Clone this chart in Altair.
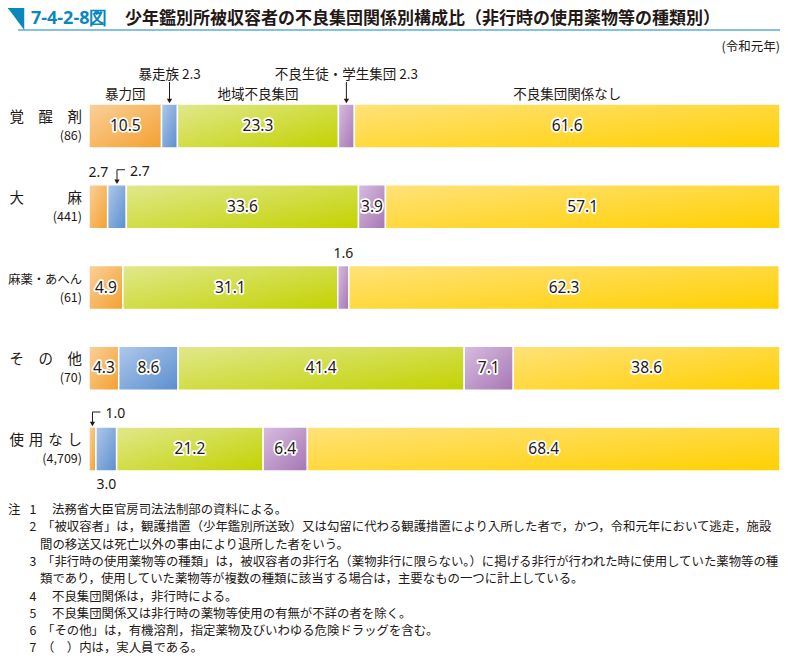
import altair as alt
import pandas as pd

# ---------------- data ----------------
rows = ["覚醒剤", "大麻", "麻薬・あへん", "その他", "使用なし"]
row_labels = ["覚　醒　剤", "大　　　麻", "麻薬・あへん", "そ　の　他", "使\u2004用\u2004な\u2004し"]
counts = ["(86)", "(441)", "(61)", "(70)", "(4,709)"]
groups = ["暴力団", "暴走族", "地域不良集団", "不良生徒・学生集団", "不良集団関係なし"]

v_boryokudan = [10.5, 2.7, 4.9, 4.3, 1.0]
v_bosozoku = [2.3, 2.7, 0.0, 8.6, 3.0]
v_chiiki = [23.3, 33.6, 31.1, 41.4, 21.2]
v_seito = [2.3, 3.9, 1.6, 7.1, 6.4]
v_nashi = [61.6, 57.1, 62.3, 38.6, 68.4]

# labels placed outside the bars: (row, group, kind)
callouts = [
    ("覚醒剤", "暴力団", "header"),
    ("覚醒剤", "地域不良集団", "header"),
    ("覚醒剤", "不良集団関係なし", "header"),
    ("覚醒剤", "暴走族", "arrow"),
    ("覚醒剤", "不良生徒・学生集団", "arrow"),
    ("大麻", "暴力団", "above"),
    ("大麻", "暴走族", "elbow"),
    ("麻薬・あへん", "不良生徒・学生集団", "above"),
    ("使用なし", "暴力団", "elbow"),
    ("使用なし", "暴走族", "below"),
]

title_no = "7-4-2-8図"
title_text = "少年鑑別所被収容者の不良集団関係別構成比（非行時の使用薬物等の種類別）"
year_text = "(令和元年)"

notes = [
    ["法務省大臣官房司法法制部の資料による。"],
    ["「被収容者」は，観護措置（少年鑑別所送致）又は勾留に代わる観護措置により入所した者で，かつ，令和元年において逃走，施設",
     "間の移送又は死亡以外の事由により退所した者をいう。"],
    ["「非行時の使用薬物等の種類」は，被収容者の非行名（薬物非行に限らない。）に掲げる非行が行われた時に使用していた薬物等の種",
     "類であり，使用していた薬物等が複数の種類に該当する場合は，主要なもの一つに計上している。"],
    ["不良集団関係は，非行時による。"],
    ["不良集団関係又は非行時の薬物等使用の有無が不詳の者を除く。"],
    ["「その他」は，有機溶剤，指定薬物及びいわゆる危険ドラッグを含む。"],
    ["（　）内は，実人員である。"],
]

# ---------------- tables ----------------
vals = [v_boryokudan, v_bosozoku, v_chiiki, v_seito, v_nashi]
recs = []
for i, r in enumerate(rows):
    start = 0.0
    for g, series in zip(groups, vals):
        v = series[i]
        recs.append(dict(row=r, idx=i, group=g, value=v, start=start,
                         end=start + v, mid=start + v / 2, label=f"{v:.1f}"))
        start += v
seg = pd.DataFrame(recs)
seg = seg[seg.value > 0].reset_index(drop=True)

cdf = pd.DataFrame(callouts, columns=["row", "group", "kind"])
cdf = cdf.merge(seg, on=["row", "group"], how="left")
cdf["text"] = cdf.apply(
    lambda d: d.group if d.kind == "header"
    else (f"{d.group} {d.label}" if d.kind == "arrow" else d.label), axis=1)

outside_keys = set((r, g) for r, g, k in callouts if k != "header")
seg["inside"] = [(r, g) not in outside_keys for r, g in zip(seg.row, seg.group)]
inside = seg[seg.inside]

rowdf = pd.DataFrame({"idx": list(range(len(rows))), "row": rows,
                      "lab": row_labels, "cnt": counts})

# ---------------- styling ----------------
FONT = "Noto Sans CJK JP"
INK = "#231815"
TEAL = "#0a88be"
grad_colors = {
    "暴力団": ("#fbd09a", "#f3a030"),
    "暴走族": ("#afc8ea", "#5a8ecf"),
    "地域不良集団": ("#e0e88c", "#c3d200"),
    "不良生徒・学生集団": ("#d8bde0", "#a676b4"),
    "不良集団関係なし": ("#ffe27a", "#ffd000"),
}

xs = alt.Scale(domain=[0, 100], range=[81, 772], nice=False, zero=False)
ys = alt.Scale(domain=[-0.5, 4.5], range=[77.6, 481.4], nice=False, zero=False)
X = lambda f: alt.X(f, scale=xs, axis=None)
Y = lambda f: alt.Y(f, scale=ys, axis=None)

layers = []

# bars
for g in groups:
    c1, c2 = grad_colors[g]
    grad = alt.LinearGradient(
        gradient="linear", x1=0, y1=0, x2=1, y2=1,
        stops=[alt.GradientStop(color=c1, offset=0), alt.GradientStop(color=c2, offset=1)])
    layers.append(
        alt.Chart(seg).transform_filter(alt.datum.group == g)
        .mark_rect(fill=grad, stroke="white", strokeWidth=1.5, yOffset=-22, y2Offset=22)
        .encode(x=X("start:Q"), x2="end:Q", y=Y("idx:Q"), y2="idx:Q")
    )

# inside value labels (halo + text)
base_in = alt.Chart(inside).encode(x=X("mid:Q"), y=Y("idx:Q"), text="label:N")
layers.append(base_in.mark_text(font="Noto Sans", fontSize=15.5, stroke="white",
                                strokeWidth=3.5, strokeJoin="round", fill="white"))
layers.append(base_in.mark_text(font="Noto Sans", fontSize=15.5, fill=INK))

# row labels
layers.append(
    alt.Chart(rowdf).mark_text(font=FONT, align="right", baseline="middle", dy=-8, color=INK)
    .encode(x=alt.value(74), y=Y("idx:Q"), text="lab:N",
            size=alt.condition(alt.datum.row == "麻薬・あへん", alt.value(12.3), alt.value(14.5)))
)
layers.append(
    alt.Chart(rowdf).mark_text(font=FONT, fontSize=12.5, align="right", baseline="middle", dy=10, color=INK)
    .encode(x=alt.value(74), y=Y("idx:Q"), text="cnt:N")
)

# callouts
def cl(kind):
    return alt.Chart(cdf).transform_filter(alt.datum.kind == kind)

layers.append(cl("header").mark_text(font=FONT, fontSize=13.5, dy=-31, color=INK)
              .encode(x=X("mid:Q"), y=Y("idx:Q"), text="text:N"))
layers.append(cl("arrow").mark_text(font=FONT, fontSize=13.5, dy=-51, color=INK)
              .encode(x=X("mid:Q"), y=Y("idx:Q"), text="text:N"))
layers.append(cl("arrow").mark_rule(color=INK, strokeWidth=1, yOffset=-44, y2Offset=-27)
              .encode(x=X("mid:Q"), y=Y("idx:Q"), y2="idx:Q"))
layers.append(cl("arrow").mark_point(shape="triangle-down", filled=True, size=28, color=INK,
                                     opacity=1, yOffset=-25)
              .encode(x=X("mid:Q"), y=Y("idx:Q")))
layers.append(cl("above").mark_text(font="Noto Sans", fontSize=14, dy=-34, color=INK)
              .encode(x=X("mid:Q"), y=Y("idx:Q"), text="text:N"))
layers.append(cl("below").mark_text(font="Noto Sans", fontSize=14, dy=36, color=INK)
              .encode(x=X("mid:Q"), y=Y("idx:Q"), text="text:N"))
layers.append(cl("elbow").mark_text(font="Noto Sans", fontSize=14, dy=-35, dx=13, align="left", color=INK)
              .encode(x=X("mid:Q"), y=Y("idx:Q"), text="text:N"))
layers.append(cl("elbow").mark_rule(color=INK, strokeWidth=1, yOffset=-37, y2Offset=-27)
              .encode(x=X("mid:Q"), y=Y("idx:Q"), y2="idx:Q"))
layers.append(cl("elbow").mark_rule(color=INK, strokeWidth=1, yOffset=-37, x2Offset=8)
              .encode(x=X("mid:Q"), x2="mid:Q", y=Y("idx:Q")))
layers.append(cl("elbow").mark_point(shape="triangle-down", filled=True, size=28, color=INK,
                                     opacity=1, yOffset=-25)
              .encode(x=X("mid:Q"), y=Y("idx:Q")))

# header / title
one = pd.DataFrame({"k": [0]})
layers.append(alt.Chart(one).mark_point(shape="M -0.75 -1 L 0.75 -1 L 0.75 1 Z", filled=True,
                                        size=484, color=TEAL, opacity=1, strokeWidth=0)
              .encode(x=alt.value(8), y=alt.value(11)))
layers.append(alt.Chart(one).mark_rule(color=TEAL, strokeWidth=1.2)
              .encode(x=alt.value(10), x2=alt.value(772), y=alt.value(22)))
layers.append(alt.Chart(pd.DataFrame({"t": [title_no]}))
              .mark_text(font="Noto Sans", fontSize=18, fontWeight="bold", color=TEAL,
                         align="left", baseline="middle")
              .encode(x=alt.value(23), y=alt.value(11), text="t:N"))
layers.append(alt.Chart(pd.DataFrame({"t": [title_text]}))
              .mark_text(font=FONT, fontSize=17, fontWeight="bold", color=INK,
                         align="left", baseline="middle")
              .encode(x=alt.value(117), y=alt.value(11), text="t:N"))
layers.append(alt.Chart(pd.DataFrame({"t": [year_text]}))
              .mark_text(font=FONT, fontSize=12.5, color=INK, align="right", baseline="middle")
              .encode(x=alt.value(772), y=alt.value(39), text="t:N"))

# notes: one text mark per printed line
NY0 = 502.0
LH = 17.3
def text_at(s, x, y, align="left", size=12.4):
    return (alt.Chart(pd.DataFrame({"t": [s]}))
            .mark_text(font=FONT, fontSize=size, color=INK, align=align, baseline="middle")
            .encode(x=alt.value(x), y=alt.value(y), text="t:N"))

layers.append(text_at("注", 0, NY0))
line_no = 0
for k, lines in enumerate(notes):
    for j, ln in enumerate(lines):
        y = NY0 + line_no * LH
        if j == 0:
            layers.append(text_at(str(k + 1), 25, y, align="center"))
            x = 34 if ln.startswith("「") or ln.startswith("（") else 44
        else:
            x = 32
        layers.append(text_at(ln, x, y))
        line_no += 1

chart = (alt.layer(*layers)
         .properties(width=772, height=651, padding=0,
                     autosize=alt.AutoSizeParams(type="none"))
         .configure_view(stroke=None))

chart.save("out.html", embed_options={"renderer": "svg", "actions": False})
